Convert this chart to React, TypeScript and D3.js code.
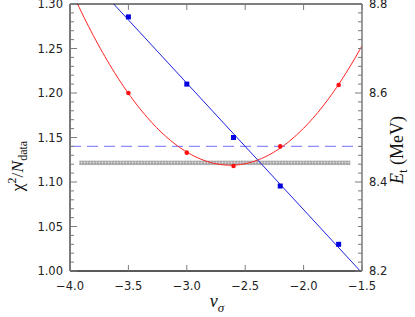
import React, { useEffect, useRef } from 'react'
import * as d3 from 'd3'

// chi^2 / N_data (left axis)
const nuRed = [-3.5, -3.0, -2.6, -2.2, -1.7]
const chi2 = [1.2, 1.133, 1.118, 1.14, 1.209]
// E_t in MeV (right axis)
const nuBlue = [-3.5, -3.0, -2.6, -2.2, -1.7]
const energy = [8.771, 8.62, 8.5, 8.391, 8.26]
const dashedLevel = 1.14
const band = { x0: -3.92, x1: -1.6, y0: 1.119, y1: 1.124 }

const xTicks = [-4.0, -3.5, -3.0, -2.5, -2.0, -1.5]
const yLeftTicks = [1.0, 1.05, 1.1, 1.15, 1.2, 1.25, 1.3]
const yRightTicks = [8.2, 8.4, 8.6, 8.8]

function polyFit(xs: number[], ys: number[], deg: number): number[] {
  const n = deg + 1
  const A: number[][] = []
  for (let i = 0; i < n; i++) {
    A.push([])
    for (let j = 0; j < n; j++) A[i].push(d3.sum(xs, x => Math.pow(x, i + j)))
    A[i].push(d3.sum(xs, (x, k) => Math.pow(x, i) * ys[k]))
  }
  for (let i = 0; i < n; i++) {
    for (let r = i + 1; r < n; r++) {
      const f = A[r][i] / A[i][i]
      for (let c = i; c <= n; c++) A[r][c] -= f * A[i][c]
    }
  }
  const coef = new Array(n).fill(0)
  for (let i = n - 1; i >= 0; i--) {
    let s = A[i][n]
    for (let j = i + 1; j < n; j++) s -= A[i][j] * coef[j]
    coef[i] = s / A[i][i]
  }
  return coef
}

export default function App() {
  const ref = useRef<SVGSVGElement>(null)

  useEffect(() => {
    const svg = d3.select(ref.current)
    svg.selectAll('*').remove()

    const left = 70, right = 362, top = 4, bottom = 271
    const x = d3.scaleLinear().domain([-4, -1.5]).range([left, right])
    const yL = d3.scaleLinear().domain([1.0, 1.3]).range([bottom, top])
    const yR = d3.scaleLinear().domain([8.2, 8.8]).range([bottom, top])

    const defs = svg.append('defs')
    const pat = defs.append('pattern').attr('id', 'hatch')
      .attr('width', 3).attr('height', 3).attr('patternUnits', 'userSpaceOnUse')
    pat.append('rect').attr('width', 3).attr('height', 3).attr('fill', '#b4b4b4')
    pat.append('rect').attr('width', 1).attr('height', 1).attr('fill', '#e0e0e0')
    pat.append('rect').attr('x', 1.5).attr('y', 1.5).attr('width', 1).attr('height', 1).attr('fill', '#8a8a8a')

    const clip = defs.append('clipPath').attr('id', 'plot')
    clip.append('rect').attr('x', left).attr('y', top).attr('width', right - left).attr('height', bottom - top)

    const g = svg.append('g').attr('clip-path', 'url(#plot)')

    // gray band
    g.append('rect')
      .attr('x', x(band.x0)).attr('y', yL(band.y1))
      .attr('width', x(band.x1) - x(band.x0)).attr('height', yL(band.y0) - yL(band.y1))
      .attr('fill', 'url(#hatch)')

    // dashed level
    g.append('line')
      .attr('x1', left).attr('x2', right)
      .attr('y1', yL(dashedLevel)).attr('y2', yL(dashedLevel))
      .attr('stroke', '#8c8cff').attr('stroke-width', 1.2).attr('stroke-dasharray', '11,6')

    // red parabola fit
    const c = polyFit(nuRed, chi2, 2)
    const xs = d3.range(-4, -1.5 + 1e-9, 0.02)
    g.append('path')
      .datum(xs)
      .attr('d', d3.line<number>().x(d => x(d)).y(d => yL(c[0] + c[1] * d + c[2] * d * d)))
      .attr('fill', 'none').attr('stroke', '#ff2020').attr('stroke-width', 1)

    // blue linear fit
    const b = polyFit(nuBlue, energy, 1)
    g.append('path')
      .datum([-4, -1.5])
      .attr('d', d3.line<number>().x(d => x(d)).y(d => yR(b[0] + b[1] * d)))
      .attr('fill', 'none').attr('stroke', '#2020e0').attr('stroke-width', 1)

    svg.selectAll('.red').data(nuRed).enter().append('circle')
      .attr('cx', d => x(d)).attr('cy', (d, i) => yL(chi2[i])).attr('r', 2.3)
      .attr('fill', '#ff1010')
    svg.selectAll('.blue').data(nuBlue).enter().append('rect')
      .attr('x', d => x(d) - 2.5).attr('y', (d, i) => yR(energy[i]) - 2.5)
      .attr('width', 5).attr('height', 5).attr('fill', '#0000e0')

    // frame
    const axisGray = '#7a7a7a'
    svg.append('line').attr('x1', left).attr('x2', right).attr('y1', top).attr('y2', top).attr('stroke', '#000').attr('stroke-width', 1.2)
    svg.append('line').attr('x1', left).attr('x2', right).attr('y1', bottom).attr('y2', bottom).attr('stroke', '#222').attr('stroke-width', 1.5)
    svg.append('line').attr('x1', left).attr('x2', left).attr('y1', top).attr('y2', bottom).attr('stroke', axisGray).attr('stroke-width', 2)
    svg.append('line').attr('x1', right).attr('x2', right).attr('y1', top).attr('y2', bottom).attr('stroke', axisGray).attr('stroke-width', 1.5)

    const tickFont = '"DejaVu Sans", sans-serif'

    // x ticks
    xTicks.forEach(t => {
      svg.append('line').attr('x1', x(t)).attr('x2', x(t)).attr('y1', bottom).attr('y2', bottom - 6).attr('stroke', axisGray)
      svg.append('line').attr('x1', x(t)).attr('x2', x(t)).attr('y1', top).attr('y2', top + 6).attr('stroke', axisGray)
      svg.append('text').attr('x', x(t)).attr('y', bottom + 19).attr('text-anchor', 'middle')
        .attr('font-family', tickFont).attr('font-size', 11.5).attr('fill', '#222')
        .text(d3.format('.1f')(t))
    })

    // left ticks
    d3.range(0, 31).map(i => 1.0 + i * 0.01).forEach((t, i) => {
      const major = i % 5 === 0
      svg.append('line').attr('x1', left).attr('x2', left + (major ? 7 : 4))
        .attr('y1', yL(t)).attr('y2', yL(t)).attr('stroke', axisGray)
    })
    yLeftTicks.forEach(t => {
      svg.append('text').attr('x', 63).attr('y', yL(t)).attr('dy', '0.35em').attr('text-anchor', 'end')
        .attr('font-family', tickFont).attr('font-size', 11.5).attr('fill', '#222')
        .text(d3.format('.2f')(t))
    })

    // right ticks
    d3.range(0, 31).map(i => 8.2 + i * 0.02).forEach((t, i) => {
      const major = i % 10 === 0
      svg.append('line').attr('x1', right).attr('x2', right - (major ? 7 : 4))
        .attr('y1', yR(t)).attr('y2', yR(t)).attr('stroke', axisGray)
    })
    yRightTicks.forEach(t => {
      svg.append('text').attr('x', 369).attr('y', yR(t)).attr('dy', '0.35em').attr('text-anchor', 'start')
        .attr('font-family', tickFont).attr('font-size', 11.5).attr('fill', '#222')
        .text(d3.format('.1f')(t))
    })

    // titles
    const serif = '"Liberation Serif", "DejaVu Serif", serif'
    const xt = svg.append('text').attr('x', 217).attr('y', 307).attr('text-anchor', 'middle')
      .attr('font-family', serif).attr('font-size', 18).attr('fill', '#111')
    xt.append('tspan').attr('font-style', 'italic').text('ν')
    xt.append('tspan').attr('font-style', 'italic').attr('font-size', 13).attr('dy', 5).text('σ')

    const yt = svg.append('text').attr('transform', 'translate(23,166) rotate(-90)').attr('text-anchor', 'middle')
      .attr('font-family', serif).attr('font-size', 17.5).attr('fill', '#111')
    yt.append('tspan').text('χ')
    yt.append('tspan').attr('font-size', 12).attr('dy', -7).text('2')
    yt.append('tspan').attr('dy', 7).text('/')
    yt.append('tspan').attr('font-style', 'italic').text('N')
    yt.append('tspan').attr('font-size', 12).attr('dy', 4).text('data')

    const rt = svg.append('text').attr('transform', 'translate(403,150) rotate(-90)').attr('text-anchor', 'middle')
      .attr('font-family', serif).attr('font-size', 18).attr('fill', '#111')
    rt.append('tspan').attr('font-style', 'italic').text('E')
    rt.append('tspan').attr('font-size', 13).attr('dy', 4).text('t')
    rt.append('tspan').attr('dy', -4).text(' (MeV)')
  }, [])

  return (
    <svg ref={ref} width={415} height={317}
      style={{ position: 'absolute', left: 0, top: 0, background: '#fff' }} />
  )
}
